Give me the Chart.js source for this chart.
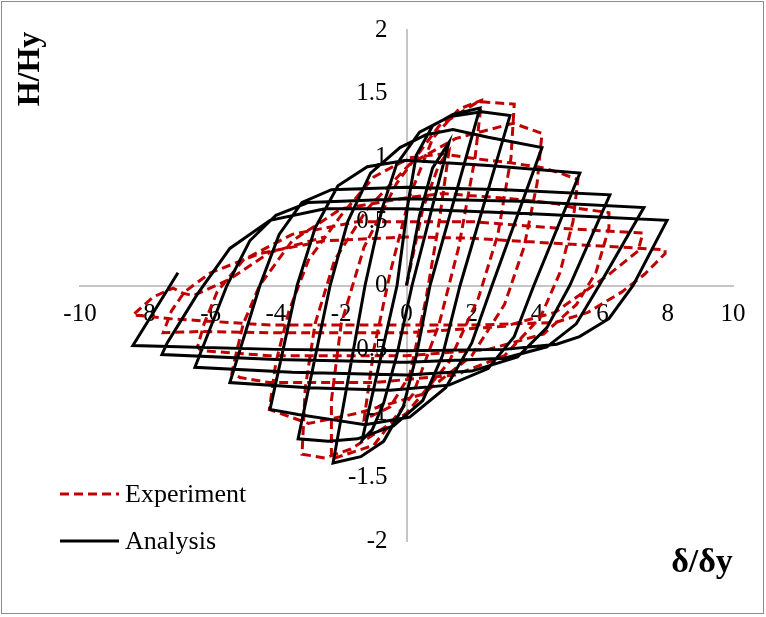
<!DOCTYPE html>
<html>
<head>
<meta charset="utf-8">
<script src="https://cdn.jsdelivr.net/npm/chart.js@4.4.0/dist/chart.umd.min.js"></script>
<style>
    html, body { margin: 0; padding: 0; background: #fff; }
</style>
</head>
<body>
<canvas id="hysteresisChart" width="766" height="617"></canvas>
<script>
// Axis ranges
const xRange = [-10, 10];
const yRange = [-2, 2];

// Experiment (dashed red)
const experimentX = [0, 0.5, 1.0, 1.3, 1.0, 0.6, 0.1, -0.5, -1.3,
    -1.0, -0.5, 0.1, 0.8, 1.6, 2.3,
    2.1, 1.6, 1.0, 0.2, -1.0, -2.3,
    -2.3, -2.0, -1.3, -0.3, 1.0, 2.2, 3.3,
    3.2, 2.8, 2.2, 1.3, 0, -1.7, -2.5, -3.2,
    -3.1, -2.8, -2.2, -1.2, 0.1, 1.5, 3.27, 4.15,
    4.0, 3.6, 3.0, 2.0, 0.5, -1.5, -3.0, -4.2,
    -4.0, -3.6, -3.0, -2.0, -1.0, 0.1, 1.1, 2.2, 3.2, 4.2, 4.7, 5.25,
    5.1, 4.7, 4.1, 3.0, 1.5, -1.0, -4.2, -5.1, -5.35,
    -5.26, -5.0, -4.5, -3.5, -2.0, 0.1, 1.1, 3.2, 4.6, 5.1, 6.2,
    6.2, 5.8, 5.2, 4.2, 2.5, 0, -4.2, -5.2, -6.3, -6.4,
    -6.2, -5.8, -5.0, -3.5, -1.5, 2.0, 4.55, 7.24,
    7.09, 6.17, 5.16, 4.55, 3.0, 0, -4.0, -6.3, -7.45,
    -7.2, -6.8, -6.0, -4.5, -2.5, 0, 2.0, 4.55, 7.92,
    7.92, 7.3, 6.6, 5.56, 4.55, 2.0, -2.0, -4.18, -7.24, -8.38,
    -7.76, -7.15, -6.85, -6.54, -5.41, -4.18, -2.5];
const experimentY = [0, 0.6, 0.95, 1.05, 0.5, -0.1, -0.7, -0.95, -1.05,
    -0.5, 0.1, 0.7, 1.15, 1.38, 1.45,
    1.0, 0.3, -0.3, -0.85, -1.25, -1.36,
    -0.9, -0.3, 0.3, 0.8, 1.25, 1.44, 1.42,
    1.0, 0.4, -0.1, -0.6, -1.0, -1.28, -1.35, -1.32,
    -0.8, -0.3, 0.2, 0.6, 0.95, 1.15, 1.27, 1.19,
    0.8, 0.3, -0.15, -0.55, -0.85, -1.0, -1.08, -0.97,
    -0.6, -0.2, 0.2, 0.55, 0.85, 1.0, 1.03, 0.99, 0.96, 0.92, 0.88, 0.83,
    0.5, 0.1, -0.25, -0.55, -0.7, -0.76, -0.76, -0.72, -0.69,
    -0.58, -0.3, 0.0, 0.35, 0.6, 0.69, 0.72, 0.68, 0.64, 0.61, 0.57,
    0.45, 0.1, -0.15, -0.38, -0.5, -0.55, -0.55, -0.53, -0.51, -0.48,
    -0.3, -0.05, 0.2, 0.4, 0.5, 0.5, 0.45, 0.41,
    0.27, 0.08, -0.1, -0.21, -0.32, -0.37, -0.37, -0.36, -0.37,
    -0.2, -0.05, 0.1, 0.25, 0.35, 0.38, 0.37, 0.33, 0.28,
    0.25, 0.09, -0.05, -0.21, -0.29, -0.31, -0.31, -0.31, -0.26, -0.23,
    -0.09, -0.02, -0.06, -0.08, 0.05, 0.26, 0.38];

// Analysis (solid black)
const analysisX = [0, 0.4, 0.8, 1.3,
    0.17, -0.3, -0.7, -1.05, -1.36,
    -0.29, 0.05, 0.3, 0.8, 1.42, 2.25,
    0.72, 0.3, -0.1, -0.7, -1.4, -2.25,
    -1.27, -0.75, -0.3, 0.4, 1.3, 2.3, 3.17,
    1.64, 1.1, 0.5, -0.4, -1.5, -2.4, -3.32,
    -2.34, -1.8, -1.1, -0.2, 0.6, 1.42, 2.5, 4.15,
    2.62, 2.0, 1.2, 0.1, -1.27, -2.28, -3.32, -4.18,
    -3.35, -2.8, -2.1, -1.2, 0, 2.5, 5.31,
    3.9, 3.3, 2.5, 1.3, -0.5, -3.0, -5.41,
    -4.49, -3.9, -3.2, -2.3, 0, 3.0, 6.23,
    5.0, 4.3, 3.4, 2.0, 0, -3.5, -6.48,
    -5.5, -4.8, -4.0, -3.0, 0, 3.5, 7.27,
    5.9, 5.2, 4.3, 3.0, 0, -4.0, -7.49,
    -7.33, -6.41, -5.41, -4.18, -2.5, 0, 4.0, 7.98,
    6.94, 6.2, 5.3, 4.6, 3.0, 0, -4.0, -8.38,
    -7.24, -7.0];
const analysisY = [0, 0.55, 0.92, 1.12,
    0, -0.55, -0.92, -1.13, -1.21,
    0, 0.65, 1.02, 1.25, 1.34, 1.39,
    0, -0.55, -0.95, -1.22, -1.34, -1.39,
    0, 0.6, 0.95, 1.2, 1.32, 1.36, 1.33,
    0, -0.55, -0.9, -1.1, -1.2, -1.22, -1.20,
    0, 0.5, 0.88, 1.08, 1.18, 1.22, 1.16, 1.08,
    0, -0.45, -0.8, -1.03, -1.09, -1.05, -1.01, -0.97,
    0, 0.45, 0.78, 0.93, 0.98, 0.94, 0.88,
    0, -0.4, -0.65, -0.78, -0.82, -0.8, -0.76,
    0, 0.4, 0.65, 0.75, 0.77, 0.75, 0.71,
    0, -0.33, -0.56, -0.67, -0.7, -0.68, -0.64,
    0, 0.35, 0.55, 0.65, 0.68, 0.66, 0.61,
    0, -0.3, -0.48, -0.57, -0.6, -0.58, -0.54,
    -0.45, -0.07, 0.29, 0.51, 0.6, 0.6, 0.56, 0.51,
    0, -0.26, -0.4, -0.46, -0.5, -0.51, -0.5, -0.47,
    0, 0.1];

const toPoints = (xs, ys) => xs.map((x, i) => ({ x: x, y: ys[i] }));

const serif = "'Liberation Serif', 'Times New Roman', serif";

// Border, y tick labels, axis titles and the legend inside the plot
const decorPlugin = {
    id: 'decor',
    afterDraw(chart) {
        const ctx = chart.ctx;
        const xs = chart.scales.x;
        const ys = chart.scales.y;
        ctx.save();
        ctx.strokeStyle = '#8c8c8c';
        ctx.lineWidth = 1;
        ctx.strokeRect(1.5, 1.5, 762, 612);

        // y labels sit left of the y axis line
        ctx.fillStyle = '#000';
        ctx.font = '25px ' + serif;
        ctx.textAlign = 'right';
        ctx.textBaseline = 'middle';
        const axisX = xs.getPixelForValue(0);
        ys.ticks.forEach(t => {
            ctx.fillText(String(t.value), axisX - 19, ys.getPixelForValue(t.value));
        });

        ctx.font = 'bold 32px ' + serif;
        ctx.textAlign = 'center';
        ctx.save();
        ctx.translate(31, 69);
        ctx.rotate(-Math.PI / 2);
        ctx.fillText('H/Hy', 0, 0);
        ctx.restore();
        ctx.font = 'bold 34px ' + serif;
        ctx.fillText('δ/δy', 702, 563);

        // legend
        ctx.lineWidth = 3;
        ctx.strokeStyle = '#c00000';
        ctx.setLineDash([9, 5]);
        ctx.beginPath();
        ctx.moveTo(60, 494);
        ctx.lineTo(119, 494);
        ctx.stroke();
        ctx.setLineDash([]);
        ctx.strokeStyle = '#000';
        ctx.beginPath();
        ctx.moveTo(60, 541);
        ctx.lineTo(119, 541);
        ctx.stroke();
        ctx.font = '26px ' + serif;
        ctx.textAlign = 'left';
        ctx.fillText('Experiment', 125, 495);
        ctx.fillText('Analysis', 125, 542);
        ctx.restore();
    }
};

const ctx = document.getElementById('hysteresisChart').getContext('2d');
new Chart(ctx, {
    type: 'scatter',
    data: {
        datasets: [
            {
                label: 'Experiment',
                data: toPoints(experimentX, experimentY),
                showLine: true,
                borderColor: '#c00000',
                borderWidth: 3,
                borderDash: [9, 5],
                pointRadius: 0,
                tension: 0,
                order: 1
            },
            {
                label: 'Analysis',
                data: toPoints(analysisX, analysisY),
                showLine: true,
                borderColor: '#000000',
                borderWidth: 3,
                pointRadius: 0,
                tension: 0,
                order: 0
            }
        ]
    },
    options: {
        responsive: false,
        devicePixelRatio: 1,
        animation: false,
        layout: {
            padding: { left: 80, right: 33, top: 30, bottom: 76 }
        },
        plugins: {
            legend: { display: false },
            tooltip: { enabled: false }
        },
        scales: {
            x: {
                type: 'linear',
                min: xRange[0],
                max: xRange[1],
                position: { y: 0 },
                grid: { display: false },
                border: { display: true, color: '#c6c6c6', width: 2 },
                ticks: {
                    stepSize: 2,
                    padding: 6,
                    color: '#000',
                    font: { family: serif, size: 25 }
                }
            },
            y: {
                type: 'linear',
                min: yRange[0],
                max: yRange[1],
                position: { x: 0 },
                grid: { display: false },
                border: { display: true, color: '#c6c6c6', width: 2 },
                ticks: {
                    stepSize: 0.5,
                    display: false
                }
            }
        }
    },
    plugins: [decorPlugin]
});
</script>
</body>
</html>
